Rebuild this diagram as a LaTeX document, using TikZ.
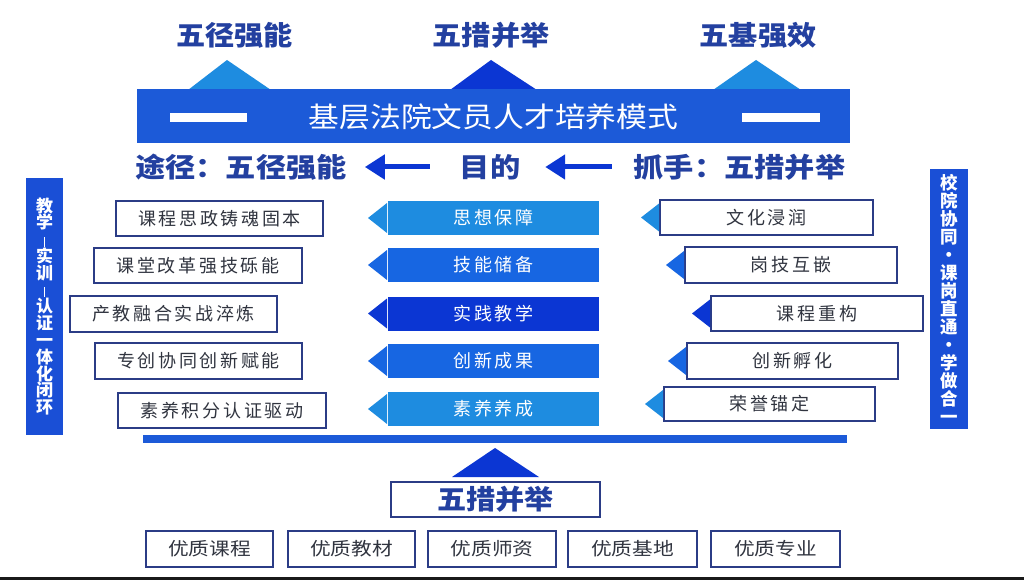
\documentclass[tikz,border=0pt]{standalone}
\usepackage{fontspec}
\usepackage{graphicx}
\setmainfont{Noto Sans CJK SC}
\newfontfamily\lsfont{Noto Sans CJK SC}[LetterSpace=15]
\usetikzlibrary{arrows.meta,calc}
\definecolor{titleblue}{HTML}{2340A0}
\definecolor{bannerblue}{HTML}{1C5AD8}
\definecolor{lightblue}{HTML}{1E8CE0}
\definecolor{midblue}{HTML}{1766E2}
\definecolor{darkblue}{HTML}{0B36D3}
\definecolor{colblue}{HTML}{1A4FD6}
\definecolor{boxline}{HTML}{2B3C86}
\definecolor{boxtext}{HTML}{30343F}
\newcommand\sx[2]{\scalebox{#1}[1]{#2}}
\newcommand\vbar{\rule[-1pt]{1.3pt}{10pt}}
\newcommand\lefttri[4]{\fill[#1] ($(#2.west)+(-#4,0)$) -- ($(#2.west)+(-1,-#3)$) -- ($(#2.west)+(-1,#3)$) -- cycle;}
\tikzset{
  every node/.style={inner sep=0pt, outer sep=0pt},
  headtext/.style={font=\bfseries\fontsize{27}{27}\selectfont, text=titleblue},
  bannerbox/.style={fill=bannerblue, minimum width=713pt, minimum height=54pt, text=white, font=\fontsize{28}{28}\selectfont},
  waybox/.style={draw=boxline, line width=1.6pt, fill=white, text=boxtext, font=\lsfont\fontsize{18}{18}\selectfont},
  goalbar/.style={text=white, font=\lsfont\fontsize{18}{18}\selectfont, minimum width=211pt, minimum height=34pt},
  colbox/.style={fill=colblue, text=white, align=center},
  bigarrow/.style={draw=darkblue, line width=5pt, -{Triangle[length=20pt,width=24pt]}},
  qualbox/.style={draw=boxline, line width=1.6pt, fill=white, text=boxtext, font=\fontsize{18}{18}\selectfont, minimum height=36pt}
}
\begin{document}
\begin{tikzpicture}[x=1pt,y=-1pt]
\useasboundingbox (0,0) rectangle (1024,580);
\fill[white] (0,0) rectangle (1024,580);

% top titles
\node[headtext] (t1) at (234.5,35) {\sx{1.08}{五径强能}};
\node[headtext] (t2) at (491,35) {\sx{1.08}{五措并举}};
\node[headtext] (t3) at (758,35) {\sx{1.08}{五基强效}};

% triangles on banner
\fill[lightblue] (188,90) -- (227,60) -- (271,90) -- cycle;
\fill[darkblue] (450,90) -- (491,60) -- (537,90) -- cycle;
\fill[lightblue] (713,90) -- (756,60) -- (801,90) -- cycle;

% banner
\node[bannerbox] (banner) at (493.5,116.5) {\sx{1.1}{基层法院文员人才培养模式}};
\fill[white] (170,113) rectangle (247,122);
\fill[white] (742,113) rectangle (820,122);

% second row headings
\node[headtext] (tujing) at (241,167) {\sx{1.12}{途径：五径强能}};
\node[headtext] (mudi) at (490,167) {\sx{1.12}{目的}};
\node[headtext] (zhuashou) at (739.5,167) {\sx{1.12}{抓手：五措并举}};
\draw[bigarrow, shorten <=30pt, shorten >=18pt] (mudi.west) -- (tujing.east);
\draw[bigarrow, shorten <=22pt, shorten >=25pt] (zhuashou.west) -- (mudi.east);

% left column box
\node[colbox, minimum width=37pt, minimum height=257pt, font=\bfseries\fontsize{17}{16.8}\selectfont] (lcol) at (44.5,306.5)
  {教\\学\\\vbar\\实\\训\\\vbar\\认\\证\\一\\体\\化\\闭\\环};
% right column box
\node[colbox, minimum width=38pt, minimum height=260pt, font=\bfseries\fontsize{17.5}{18}\selectfont] (rcol) at (949,299)
  {校\\院\\协\\同\\·\\课\\岗\\直\\通\\·\\学\\做\\合\\一};

% left ways
\node[waybox, minimum width=207pt, minimum height=35pt] (l1) at (219.5,218.5) {课程思政铸魂固本};
\node[waybox, minimum width=208pt, minimum height=35pt] (l2) at (198,265.5) {课堂改革强技砾能};
\node[waybox, minimum width=207pt, minimum height=36pt] (l3) at (173.5,314) {产教融合实战淬炼};
\node[waybox, minimum width=207pt, minimum height=36pt] (l4) at (198.5,361) {专创协同创新赋能};
\node[waybox, minimum width=208pt, minimum height=35pt] (l5) at (222,410.5) {素养积分认证驱动};

% middle goals
\node[goalbar, fill=lightblue] (m1) at (493.5,218) {思想保障};
\node[goalbar, fill=midblue] (m2) at (493.5,265) {技能储备};
\node[goalbar, fill=darkblue] (m3) at (493.5,313.5) {实践教学};
\node[goalbar, fill=midblue] (m4) at (493.5,361) {创新成果};
\node[goalbar, fill=lightblue] (m5) at (493.5,409) {素养养成};
\lefttri{lightblue}{m1}{15}{20}
\lefttri{midblue}{m2}{15}{20}
\lefttri{darkblue}{m3}{15}{20}
\lefttri{midblue}{m4}{15}{20}
\lefttri{lightblue}{m5}{15}{20}

% right measures
\node[waybox, minimum width=213pt, minimum height=35pt] (r1) at (766.5,217.5) {文化浸润};
\node[waybox, minimum width=212pt, minimum height=36pt] (r2) at (791,265) {岗技互嵌};
\node[waybox, minimum width=212pt, minimum height=35pt] (r3) at (817,313.5) {课程重构};
\node[waybox, minimum width=211pt, minimum height=36pt] (r4) at (792.5,361) {创新孵化};
\node[waybox, minimum width=211pt, minimum height=34pt] (r5) at (769.5,404) {荣誉锚定};
\lefttri{lightblue}{r1}{14}{19}
\lefttri{midblue}{r2}{14}{19}
\lefttri{darkblue}{r3}{14}{19}
\lefttri{midblue}{r4}{14}{19}
\lefttri{lightblue}{r5}{14}{19}

% base line
\fill[bannerblue] (143,435) rectangle (847,443);

% bottom
\node[waybox, minimum width=209pt, minimum height=35pt, headtext, text=titleblue] (cuo) at (495.5,499.5) {\sx{1.08}{五措并举}};
\fill[darkblue] ($(cuo.north)+(-43.5,-5)$) -- ($(cuo.north)+(-0.5,-34)$) -- ($(cuo.north)+(43.5,-5)$) -- cycle;

\node[qualbox, minimum width=127pt] (b1) at (209.5,549) {\sx{1.15}{优质课程}};
\node[qualbox, minimum width=127pt] (b2) at (351.5,549) {\sx{1.15}{优质教材}};
\node[qualbox, minimum width=128pt] (b3) at (492,549) {\sx{1.15}{优质师资}};
\node[qualbox, minimum width=129pt] (b4) at (632.5,549) {\sx{1.15}{优质基地}};
\node[qualbox, minimum width=129pt] (b5) at (775.5,549) {\sx{1.15}{优质专业}};

\fill[black!90] (0,577) rectangle (1024,580);
\end{tikzpicture}
\end{document}
